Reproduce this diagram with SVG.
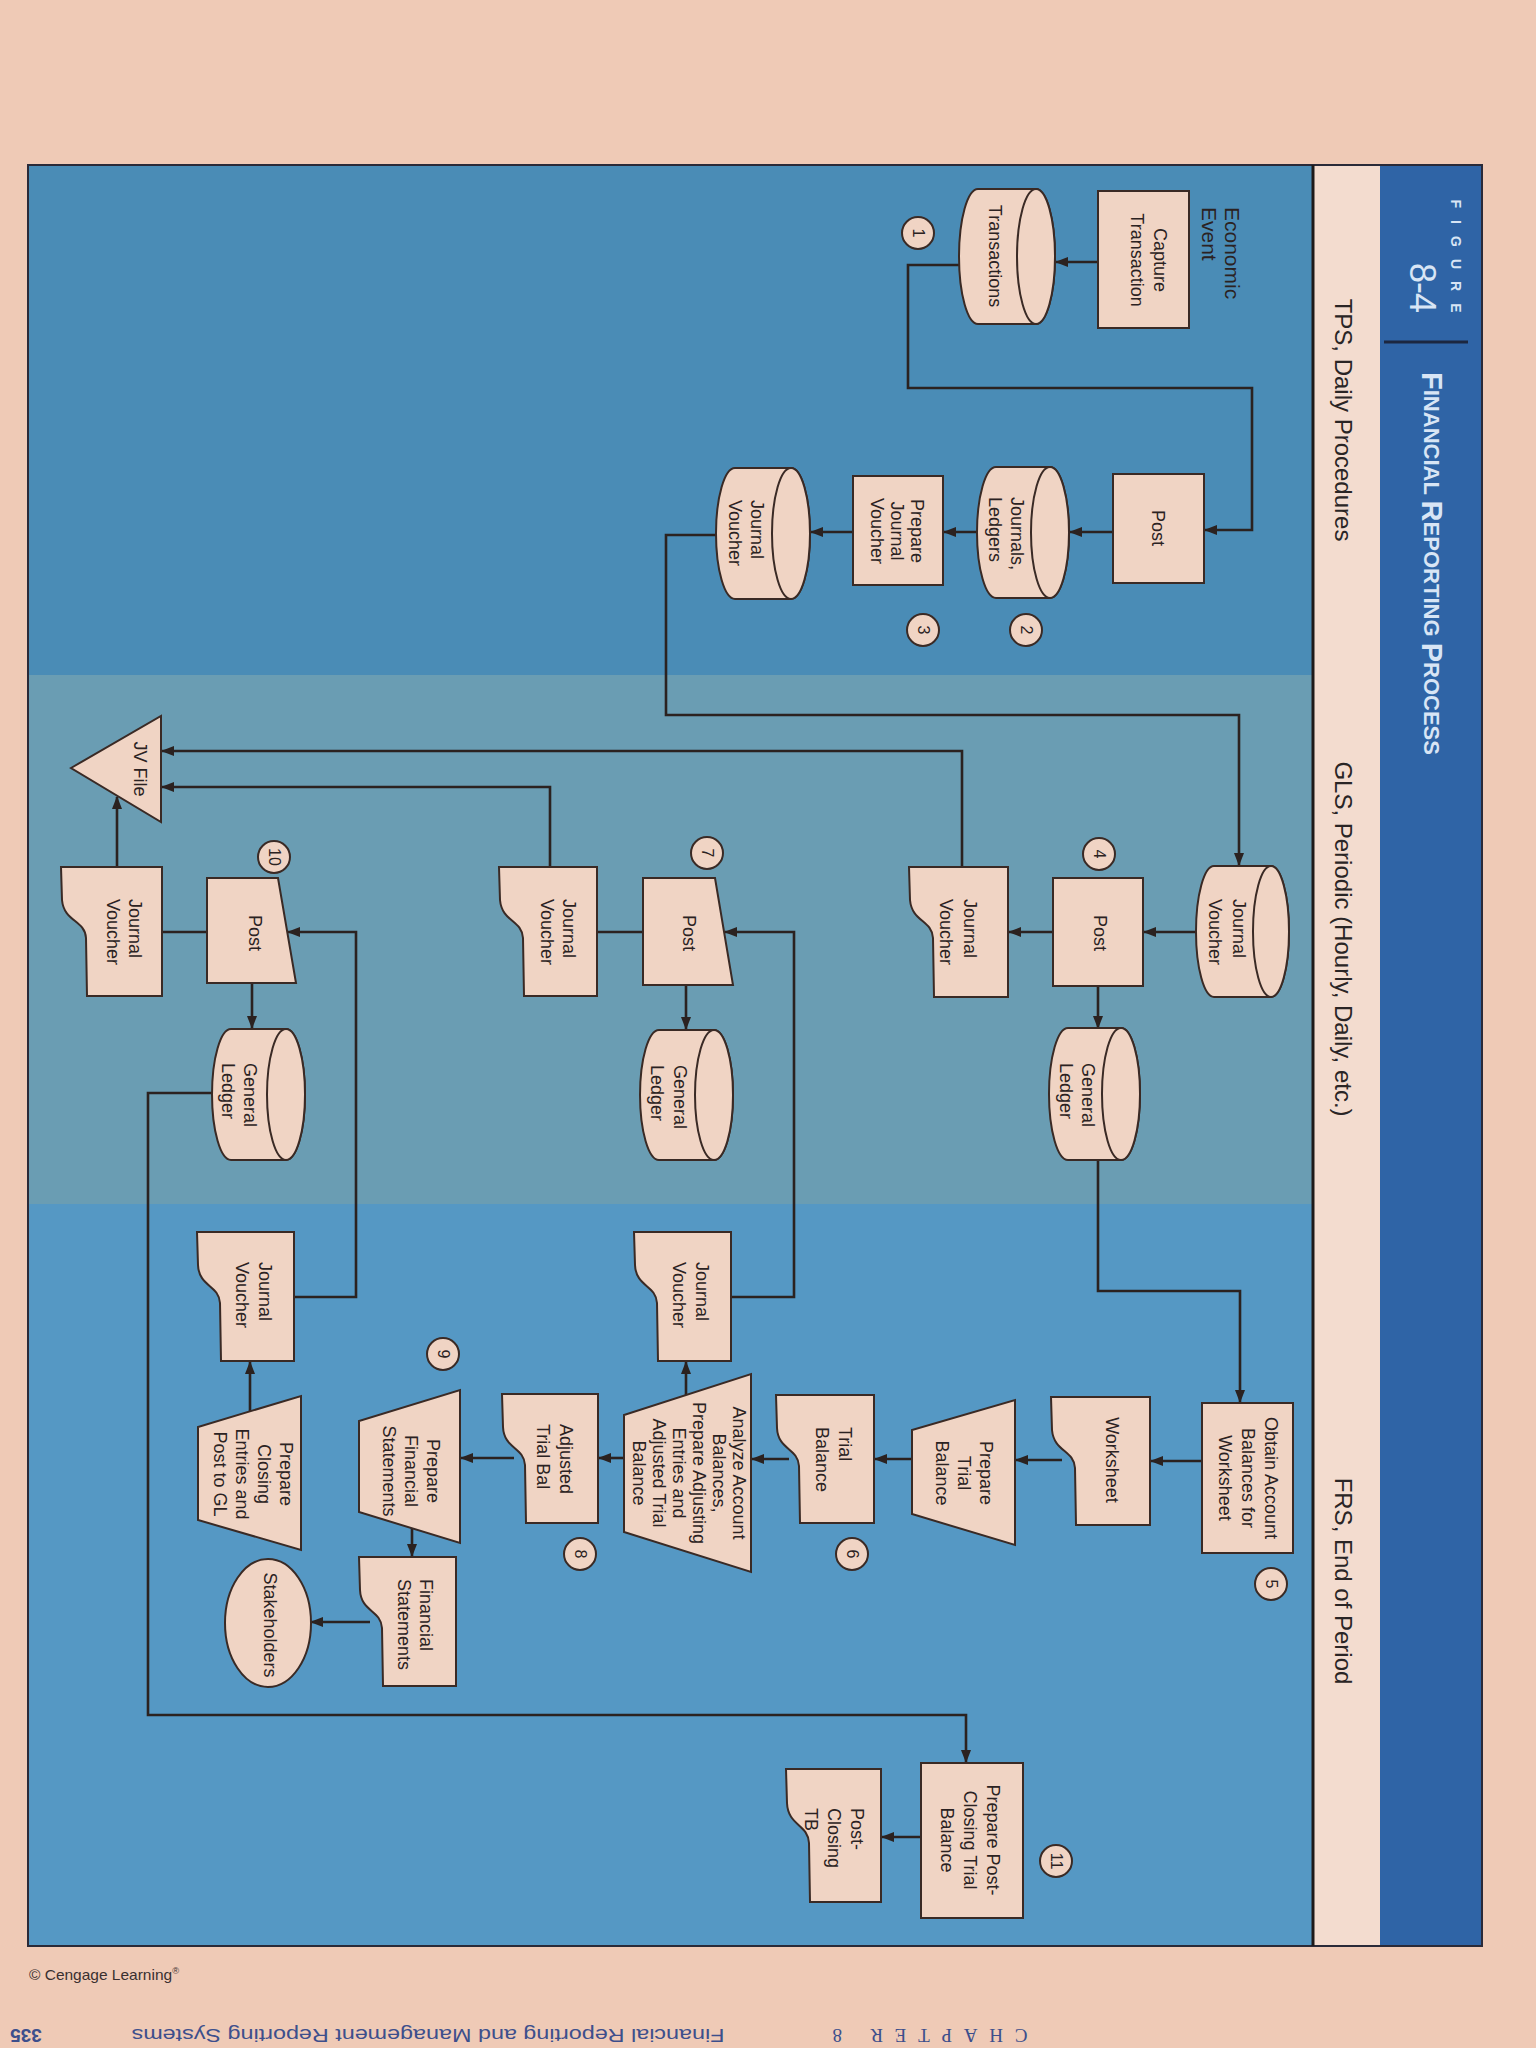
<svg xmlns="http://www.w3.org/2000/svg" width="1536" height="2048" viewBox="0 0 1536 2048">
<defs>
<marker id="arr" markerWidth="13" markerHeight="10" refX="12" refY="5" orient="auto" markerUnits="userSpaceOnUse"><path d="M0,0 L13,5 L0,10 Z" fill="#2b2220"/></marker>
<style>
.nd{fill:#f0d4c4;stroke:#3a2a25;stroke-width:2}
.t{font-family:"Liberation Sans",Arial,Helvetica,sans-serif;font-size:18px;fill:#2b2222;dominant-baseline:central}
.big{font-size:21px}
.m{text-anchor:middle}
.s{text-anchor:start}
.lane{font-family:"Liberation Sans",Arial,Helvetica,sans-serif;font-size:24px;fill:#2a2525;text-anchor:middle;dominant-baseline:central}
.num{font-family:"Liberation Sans",Arial,Helvetica,sans-serif;font-size:16px;fill:#2b2222;text-anchor:middle;dominant-baseline:central}
.c{fill:none;stroke:#2b2220;stroke-width:2.6}
.ca{fill:none;stroke:#2b2220;stroke-width:2.6;marker-end:url(#arr)}
</style>
</defs>
<rect x="0" y="0" width="1536" height="2048" fill="#efcab6"/>
<g id="panel">
<rect x="28" y="165" width="1285" height="510" fill="#4a8cb6"/>
<rect x="28" y="675" width="1285" height="529" fill="#6a9db3"/>
<rect x="28" y="1204" width="1285" height="742" fill="#5598c4"/>
<rect x="1313" y="165" width="67" height="1781" fill="#f3dccf"/>
<rect x="1380" y="165" width="102" height="1781" fill="#2f64a6"/>
<rect x="28" y="165" width="1454" height="1781" fill="none" stroke="#2a2a38" stroke-width="2"/>
<line x1="1313" y1="165" x2="1313" y2="1946" stroke="#1e1a1a" stroke-width="3"/>
<line x1="1384" y1="342" x2="1468" y2="342" stroke="#1c2740" stroke-width="3"/>
<g transform="translate(1456,256) rotate(90)"><text x="0" y="0" font-family="Liberation Sans,Arial,sans-serif" font-size="14" font-weight="bold" fill="#d8e5f5" text-anchor="middle" dominant-baseline="central" textLength="113" lengthAdjust="spacing">FIGURE</text></g>
<g transform="translate(1422,288) rotate(90)"><text x="0" y="0" font-family="Liberation Sans,Arial,sans-serif" font-size="36" fill="#d8e5f5" text-anchor="middle" dominant-baseline="central" textLength="50">8-4</text></g>
<g transform="translate(1432,372) rotate(90)"><text x="0" y="0" font-family="Liberation Sans,Arial,sans-serif" font-weight="bold" fill="#d8e5f5" dominant-baseline="central" textLength="383" lengthAdjust="spacing"><tspan font-size="29">F</tspan><tspan font-size="22">INANCIAL </tspan><tspan font-size="29">R</tspan><tspan font-size="22">EPORTING </tspan><tspan font-size="29">P</tspan><tspan font-size="22">ROCESS</tspan></text></g>
<g transform="translate(1343,420) rotate(90)"><text class="lane" x="0" y="0">TPS, Daily Procedures</text></g>
<g transform="translate(1343,939) rotate(90)"><text class="lane" x="0" y="0">GLS, Periodic (Hourly, Daily, etc.)</text></g>
<g transform="translate(1343,1581) rotate(90)"><text class="lane" x="0" y="0">FRS, End of Period</text></g>
</g>

<g id="connectors">
<path class="ca" d="M1098,262 H1056"/>
<path class="ca" d="M960,265 H908 V388 H1252 V530 H1205"/>
<path class="ca" d="M1113,532 H1070"/>
<path class="ca" d="M977,532 H944"/>
<path class="ca" d="M853,532 H811"/>
<path class="ca" d="M716,535 H666 V715 H1239 V865"/>
<path class="ca" d="M1196,932 H1144"/>
<path class="ca" d="M1053,932 H1009"/>
<path class="ca" d="M1098,986 V1028"/>
<path class="ca" d="M962,867 V751 H162"/>
<path class="ca" d="M550,867 V787 H162"/>
<path class="ca" d="M117,867 V797"/>
<path class="c" d="M597,932 H643"/>
<path class="c" d="M162,932 H207"/>
<path class="ca" d="M686,985 V1029"/>
<path class="ca" d="M252,983 V1028"/>
<path class="ca" d="M1098,1160 V1291 H1240 V1402"/>
<path class="ca" d="M1202,1461 H1151"/>
<path class="ca" d="M1062,1460 H1016"/>
<path class="ca" d="M912,1459 H875"/>
<path class="ca" d="M789,1459 H752"/>
<path class="ca" d="M624,1458 H599"/>
<path class="ca" d="M514,1458 H461"/>
<path class="ca" d="M412,1528 V1556"/>
<path class="ca" d="M370,1622 H311"/>
<path class="ca" d="M686,1395 V1362"/>
<path class="ca" d="M731,1297 H794 V932 H725"/>
<path class="ca" d="M250,1411 V1362"/>
<path class="ca" d="M294,1297 H356 V932 H288"/>
<path class="ca" d="M212,1093 H148 V1715 H966 V1762"/>
<path class="ca" d="M921,1837 H882"/>
</g>

<g id="economic-event"><g transform="translate(1220.5,207) rotate(90)"><text class="t s big" x="0" y="-11.5">Economic</text><text class="t s big" x="0" y="11.5">Event</text></g></g>

<g id="capture-transaction"><rect class="nd" x="1098" y="191" width="91" height="137"/>
<g transform="translate(1148.5,260) rotate(90)"><text class="t m" x="0" y="-11.5">Capture</text><text class="t m" x="0" y="11.5">Transaction</text></g></g>

<g id="transactions"><path class="nd" d="M1036,189 H978 A19,67.5 0 0 0 978,324 H1036 A19,67.5 0 0 0 1036,189 Z"/><ellipse class="nd" cx="1036" cy="256.5" rx="19" ry="67.5"/>
<g transform="translate(995,256) rotate(90)"><text class="t m" x="0" y="0">Transactions</text></g></g>
<g id="badge-1"><circle class="nd" cx="918" cy="233" r="16"/><g transform="translate(918,233) rotate(90)"><text class="num" x="0" y="0">1</text></g></g>

<g id="post-tps"><rect class="nd" x="1113" y="474" width="91" height="109"/>
<g transform="translate(1158,528) rotate(90)"><text class="t m" x="0" y="0">Post</text></g></g>

<g id="journals-ledgers"><path class="nd" d="M1050,467 H996 A19,65.5 0 0 0 996,598 H1050 A19,65.5 0 0 0 1050,467 Z"/><ellipse class="nd" cx="1050" cy="532.5" rx="19" ry="65.5"/>
<g transform="translate(1006,497) rotate(90)"><text class="t s" x="0" y="-11">Journals,</text><text class="t s" x="0" y="11">Ledgers</text></g></g>
<g id="badge-2"><circle class="nd" cx="1026" cy="630" r="16"/><g transform="translate(1026,630) rotate(90)"><text class="num" x="0" y="0">2</text></g></g>

<g id="prepare-jv"><rect class="nd" x="853" y="476" width="90" height="109"/>
<g transform="translate(897,531) rotate(90)"><text class="t m" x="0" y="-20">Prepare</text><text class="t m" x="0" y="0">Journal</text><text class="t m" x="0" y="20">Voucher</text></g></g>
<g id="badge-3"><circle class="nd" cx="923" cy="630" r="16"/><g transform="translate(923,630) rotate(90)"><text class="num" x="0" y="0">3</text></g></g>

<g id="jv-tps"><path class="nd" d="M791,468 H735 A19,65.5 0 0 0 735,599 H791 A19,65.5 0 0 0 791,468 Z"/><ellipse class="nd" cx="791" cy="533.5" rx="19" ry="65.5"/>
<g transform="translate(746,500) rotate(90)"><text class="t s" x="0" y="-11">Journal</text><text class="t s" x="0" y="11">Voucher</text></g></g>

<g id="jv-gls"><path class="nd" d="M1271,866 H1214 A18,65.5 0 0 0 1214,997 H1271 A18,65.5 0 0 0 1271,866 Z"/><ellipse class="nd" cx="1271" cy="931.5" rx="18" ry="65.5"/>
<g transform="translate(1227,899) rotate(90)"><text class="t s" x="0" y="-12">Journal</text><text class="t s" x="0" y="12">Voucher</text></g></g>

<g id="post-4"><rect class="nd" x="1053" y="878" width="90" height="108"/>
<g transform="translate(1100,933) rotate(90)"><text class="t m" x="0" y="0">Post</text></g></g>
<g id="badge-4"><circle class="nd" cx="1099" cy="854" r="16"/><g transform="translate(1099,854) rotate(90)"><text class="num" x="0" y="0">4</text></g></g>

<g id="jv-doc-4"><path class="nd" d="M909,867 H1008 V997 H934 L933,938 C932,920 912,922 910,900 Z"/>
<g transform="translate(958,899) rotate(90)"><text class="t s" x="0" y="-12">Journal</text><text class="t s" x="0" y="12">Voucher</text></g></g>

<g id="gl-4"><path class="nd" d="M1121,1028 H1068 A19,66 0 0 0 1068,1160 H1121 A19,66 0 0 0 1121,1028 Z"/><ellipse class="nd" cx="1121" cy="1094" rx="19" ry="66"/>
<g transform="translate(1077,1063) rotate(90)"><text class="t s" x="0" y="-11">General</text><text class="t s" x="0" y="11">Ledger</text></g></g>

<g id="post-7"><path class="nd" d="M643,878 H715 L733,985 H643 Z"/>
<g transform="translate(689,933) rotate(90)"><text class="t m" x="0" y="0">Post</text></g></g>
<g id="badge-7"><circle class="nd" cx="707" cy="853" r="16"/><g transform="translate(707,853) rotate(90)"><text class="num" x="0" y="0">7</text></g></g>

<g id="jv-doc-7"><path class="nd" d="M499,867 H597 V996 H524 L523,938 C522,920 502,922 500,900 Z"/>
<g transform="translate(557.5,899) rotate(90)"><text class="t s" x="0" y="-11">Journal</text><text class="t s" x="0" y="11">Voucher</text></g></g>

<g id="gl-7"><path class="nd" d="M714,1030 H659 A19,65 0 0 0 659,1160 H714 A19,65 0 0 0 714,1030 Z"/><ellipse class="nd" cx="714" cy="1095" rx="19" ry="65"/>
<g transform="translate(668.5,1065) rotate(90)"><text class="t s" x="0" y="-11.5">General</text><text class="t s" x="0" y="11.5">Ledger</text></g></g>

<g id="post-10"><path class="nd" d="M207,878 H278 L296,983 H207 Z"/>
<g transform="translate(255,933) rotate(90)"><text class="t m" x="0" y="0">Post</text></g></g>
<g id="badge-10"><circle class="nd" cx="274" cy="857" r="16"/><g transform="translate(274,857) rotate(90)"><text class="num" x="0" y="0">10</text></g></g>

<g id="jv-doc-10"><path class="nd" d="M61,867 H162 V996 H87 L86,938 C85,920 64,922 62,900 Z"/>
<g transform="translate(124,899) rotate(90)"><text class="t s" x="0" y="-11">Journal</text><text class="t s" x="0" y="11">Voucher</text></g></g>

<g id="gl-10"><path class="nd" d="M286,1029 H231 A19,65.5 0 0 0 231,1160 H286 A19,65.5 0 0 0 286,1029 Z"/><ellipse class="nd" cx="286" cy="1094.5" rx="19" ry="65.5"/>
<g transform="translate(239,1063) rotate(90)"><text class="t s" x="0" y="-11">General</text><text class="t s" x="0" y="11">Ledger</text></g></g>

<g id="jv-file"><path class="nd" d="M71,768 L161,716 L161,822 Z"/>
<g transform="translate(140,769) rotate(90)"><text class="t m" x="0" y="0">JV File</text></g></g>

<g id="obtain-balances"><rect class="nd" x="1202" y="1403" width="91" height="150"/>
<g transform="translate(1248,1478) rotate(90)"><text class="t m" x="0" y="-23">Obtain Account</text><text class="t m" x="0" y="0">Balances for</text><text class="t m" x="0" y="23">Worksheet</text></g></g>
<g id="badge-5"><circle class="nd" cx="1271" cy="1584" r="16"/><g transform="translate(1271,1584) rotate(90)"><text class="num" x="0" y="0">5</text></g></g>

<g id="worksheet"><path class="nd" d="M1051,1397 H1150 V1525 H1076 L1075,1468 C1074,1450 1054,1452 1052,1430 Z"/>
<g transform="translate(1112,1460) rotate(90)"><text class="t m" x="0" y="0">Worksheet</text></g></g>

<g id="prepare-tb"><path class="nd" d="M1015,1400 V1545 L912,1514 V1430 Z"/>
<g transform="translate(964,1473) rotate(90)"><text class="t m" x="0" y="-22">Prepare</text><text class="t m" x="0" y="0">Trial</text><text class="t m" x="0" y="22">Balance</text></g></g>

<g id="trial-balance"><path class="nd" d="M776,1395 H874 V1523 H800 L799,1466 C798,1448 778,1450 777,1428 Z"/>
<g transform="translate(833.5,1427) rotate(90)"><text class="t s" x="0" y="-11.5">Trial</text><text class="t s" x="0" y="11.5">Balance</text></g></g>
<g id="badge-6"><circle class="nd" cx="852" cy="1554" r="16"/><g transform="translate(852,1554) rotate(90)"><text class="num" x="0" y="0">6</text></g></g>

<g id="analyze"><path class="nd" d="M751,1374 V1572 L624,1532 V1415 Z"/>
<g transform="translate(689,1473) rotate(90)"><text class="t m" x="0" y="-50">Analyze Account</text><text class="t m" x="0" y="-30">Balances,</text><text class="t m" x="0" y="-10">Prepare Adjusting</text><text class="t m" x="0" y="10">Entries and</text><text class="t m" x="0" y="30">Adjusted Trial</text><text class="t m" x="0" y="50">Balance</text></g></g>

<g id="jv-doc-6"><path class="nd" d="M634,1232 H731 V1361 H658 L657,1303 C656,1285 636,1287 635,1265 Z"/>
<g transform="translate(690.5,1262) rotate(90)"><text class="t s" x="0" y="-11.5">Journal</text><text class="t s" x="0" y="11.5">Voucher</text></g></g>

<g id="adjusted-tb"><path class="nd" d="M502,1394 H598 V1523 H526 L525,1465 C524,1447 504,1449 503,1427 Z"/>
<g transform="translate(554.5,1424) rotate(90)"><text class="t s" x="0" y="-11.5">Adjusted</text><text class="t s" x="0" y="11.5">Trial Bal</text></g></g>
<g id="badge-8"><circle class="nd" cx="580" cy="1554" r="16"/><g transform="translate(580,1554) rotate(90)"><text class="num" x="0" y="0">8</text></g></g>

<g id="prepare-fs"><path class="nd" d="M460,1390 V1543 L359,1512 V1421 Z"/>
<g transform="translate(411,1471) rotate(90)"><text class="t m" x="0" y="-22">Prepare</text><text class="t m" x="0" y="0">Financial</text><text class="t m" x="0" y="22">Statements</text></g></g>
<g id="badge-9"><circle class="nd" cx="443" cy="1354" r="16"/><g transform="translate(443,1354) rotate(90)"><text class="num" x="0" y="0">9</text></g></g>

<g id="financial-statements"><path class="nd" d="M359,1557 H456 V1686 H383 L382,1628 C381,1610 361,1612 360,1590 Z"/>
<g transform="translate(415,1579) rotate(90)"><text class="t s" x="0" y="-11">Financial</text><text class="t s" x="0" y="11">Statements</text></g></g>

<g id="stakeholders"><ellipse class="nd" cx="268" cy="1623" rx="43" ry="64"/>
<g transform="translate(270,1625) rotate(90)"><text class="t m" x="0" y="0">Stakeholders</text></g></g>

<g id="jv-doc-9"><path class="nd" d="M197,1232 H294 V1361 H221 L220,1303 C219,1285 199,1287 198,1265 Z"/>
<g transform="translate(253,1262) rotate(90)"><text class="t s" x="0" y="-11.5">Journal</text><text class="t s" x="0" y="11.5">Voucher</text></g></g>

<g id="prepare-closing"><path class="nd" d="M301,1396 V1550 L198,1520 V1427 Z"/>
<g transform="translate(253,1474) rotate(90)"><text class="t m" x="0" y="-33">Prepare</text><text class="t m" x="0" y="-11">Closing</text><text class="t m" x="0" y="11">Entries and</text><text class="t m" x="0" y="33">Post to GL</text></g></g>

<g id="prepare-post-closing"><rect class="nd" x="921" y="1763" width="102" height="155"/>
<g transform="translate(970,1840) rotate(90)"><text class="t m" x="0" y="-23">Prepare Post-</text><text class="t m" x="0" y="0">Closing Trial</text><text class="t m" x="0" y="23">Balance</text></g></g>
<g id="badge-11"><circle class="nd" cx="1056" cy="1861" r="16"/><g transform="translate(1056,1861) rotate(90)"><text class="num" x="0" y="0">11</text></g></g>

<g id="post-closing-tb"><path class="nd" d="M786,1769 H881 V1902 H810 L809,1843 C808,1824 788,1826 787,1803 Z"/>
<g transform="translate(834,1808) rotate(90)"><text class="t s" x="0" y="-23">Post-</text><text class="t s" x="0" y="0">Closing</text><text class="t s" x="0" y="23">TB</text></g></g>

<g id="footer">
<text x="29" y="1980" font-family="Liberation Sans,Arial,sans-serif" font-size="15" fill="#3a3030" textLength="150" lengthAdjust="spacingAndGlyphs">© Cengage Learning<tspan font-size="9" dy="-6">®</tspan></text>
<text x="428" y="2029" transform="rotate(180,428,2029)" font-family="Liberation Sans,Arial,sans-serif" font-size="19" fill="#3d4f8c" text-anchor="middle" textLength="593" lengthAdjust="spacingAndGlyphs">Financial Reporting and Management Reporting Systems</text>
<text x="930" y="2029" transform="rotate(180,930,2029)" font-family="Liberation Serif,serif" font-size="19" fill="#3d4f8c" text-anchor="middle" textLength="195" lengthAdjust="spacing">CHAPTER 8</text>
<text x="26" y="2029" transform="rotate(180,26,2029)" font-family="Liberation Sans,Arial,sans-serif" font-size="19" font-weight="bold" fill="#3d4f8c" text-anchor="middle">335</text>
</g>
</svg>
